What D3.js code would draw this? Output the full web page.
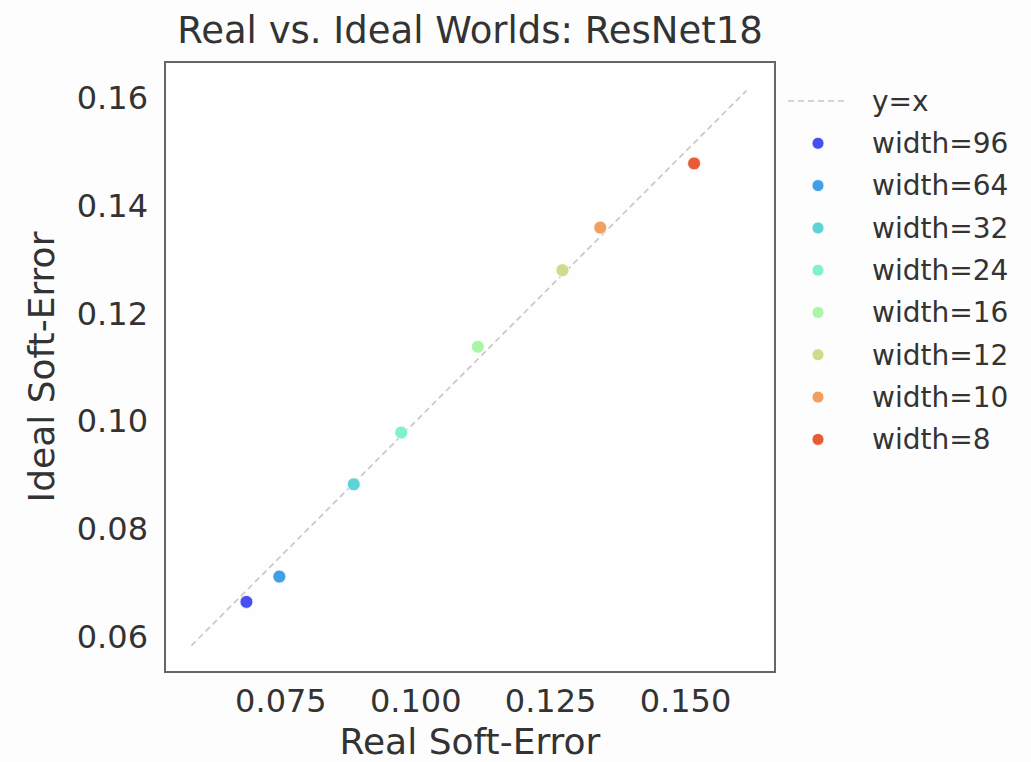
<!DOCTYPE html>
<html>
<head>
<meta charset="utf-8">
<script src="https://cdn.jsdelivr.net/npm/d3@7"></script>
<style>
  html, body { margin: 0; padding: 0; background: #fdfdfd; }
  svg { display: block; font-family: "DejaVu Sans", sans-serif; }
</style>
</head>
<body>
<svg id="chart" width="1031" height="762"></svg>
<script>
// Network widths and their soft-error in the real vs. ideal setting
const widthLabels = ["width=96", "width=64", "width=32", "width=24", "width=16", "width=12", "width=10", "width=8"];
const realError  = [0.0687, 0.0748, 0.0886, 0.0974, 0.1116, 0.1273, 0.1343, 0.1517];
const idealError = [0.0666, 0.0713, 0.0884, 0.0980, 0.1139, 0.1281, 0.1360, 0.1479];
const pointColors = ["#4650ef", "#3fa0e8", "#5bd3d8", "#7ff2c6", "#aaf6a6", "#cfda8a", "#f2a062", "#eb5a36"];
const xTicks = [0.075, 0.100, 0.125, 0.150];
const yTicks = [0.06, 0.08, 0.10, 0.12, 0.14, 0.16];
const axisDomain = [0.0536, 0.1667];
const refLine = [0.0585, 0.1614];

const svg = d3.select("#chart");
const plot = { left: 165, top: 62, right: 775, bottom: 672 };

const x = d3.scaleLinear().domain(axisDomain).range([plot.left, plot.right]);
const y = d3.scaleLinear().domain(axisDomain).range([plot.bottom, plot.top]);

// plot background
svg.append("rect")
  .attr("x", plot.left).attr("y", plot.top)
  .attr("width", plot.right - plot.left).attr("height", plot.bottom - plot.top)
  .attr("fill", "#fefefe");

// axes (labels only, no tick marks)
const xAxis = svg.append("g")
  .attr("transform", `translate(0,${plot.bottom})`)
  .call(d3.axisBottom(x).tickValues(xTicks).tickFormat(d3.format(".3f")).tickSize(0).tickPadding(17));
const yAxis = svg.append("g")
  .attr("transform", `translate(${plot.left},0)`)
  .call(d3.axisLeft(y).tickValues(yTicks).tickFormat(d3.format(".2f")).tickSize(0).tickPadding(17));
[xAxis, yAxis].forEach(g => {
  g.select(".domain").remove();
  g.selectAll("text").attr("fill", "#333").style("font-size", "32px")
   .style("font-family", "'DejaVu Sans', sans-serif");
});
xAxis.selectAll("text").attr("dy", "0.71em");

// y = x reference
svg.append("line")
  .attr("x1", x(refLine[0])).attr("y1", y(refLine[0]))
  .attr("x2", x(refLine[1])).attr("y2", y(refLine[1]))
  .attr("stroke", "#c8c8c8").attr("stroke-width", 1.7)
  .attr("stroke-dasharray", "6,4");

// points
svg.append("g").selectAll("circle")
  .data(widthLabels.map((w, i) => ({ w, rx: realError[i], iy: idealError[i], c: pointColors[i] })))
  .join("circle")
  .attr("cx", d => x(d.rx))
  .attr("cy", d => y(d.iy))
  .attr("r", 6.5)
  .attr("fill", d => d.c)
  .attr("stroke", "#ffffff").attr("stroke-width", 0.8);

// frame
svg.append("rect")
  .attr("x", plot.left).attr("y", plot.top)
  .attr("width", plot.right - plot.left).attr("height", plot.bottom - plot.top)
  .attr("fill", "none").attr("stroke", "#666").attr("stroke-width", 2);

// title and axis labels
svg.append("text")
  .attr("x", (plot.left + plot.right) / 2).attr("y", 43)
  .attr("text-anchor", "middle").attr("fill", "#333")
  .style("font-size", "37px")
  .text("Real vs. Ideal Worlds: ResNet18");
svg.append("text")
  .attr("x", (plot.left + plot.right) / 2).attr("y", 754)
  .attr("text-anchor", "middle").attr("fill", "#333")
  .style("font-size", "36px")
  .text("Real Soft-Error");
svg.append("text")
  .attr("transform", `translate(54,${(plot.top + plot.bottom) / 2}) rotate(-90)`)
  .attr("text-anchor", "middle").attr("fill", "#333")
  .style("font-size", "36px")
  .text("Ideal Soft-Error");

// legend
const legend = svg.append("g");
const rowY = i => 101 + i * 42.3;
legend.append("line")
  .attr("x1", 788).attr("x2", 847).attr("y1", rowY(0)).attr("y2", rowY(0))
  .attr("stroke", "#c8c8c8").attr("stroke-width", 1.7).attr("stroke-dasharray", "6,4");
legend.append("text")
  .attr("x", 872).attr("y", rowY(0)).attr("dy", "0.35em")
  .attr("fill", "#333").style("font-size", "28px").text("y=x");
widthLabels.forEach((w, i) => {
  legend.append("circle")
    .attr("cx", 818).attr("cy", rowY(i + 1)).attr("r", 6)
    .attr("fill", pointColors[i]).attr("stroke", "#fff").attr("stroke-width", 0.8);
  legend.append("text")
    .attr("x", 872).attr("y", rowY(i + 1)).attr("dy", "0.35em")
    .attr("fill", "#333").style("font-size", "28px").text(w);
});
</script>
</body>
</html>
